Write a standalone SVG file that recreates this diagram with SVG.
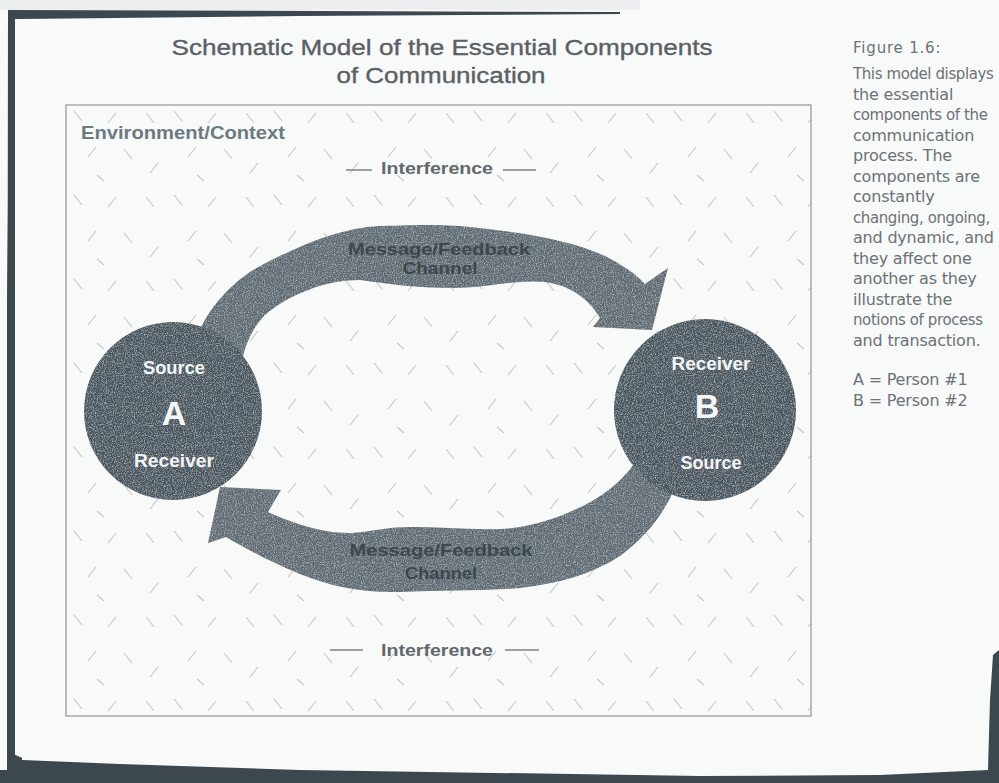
<svg xmlns="http://www.w3.org/2000/svg" width="999" height="783" viewBox="0 0 999 783">
  <defs>
    <style>
      .title { font-family: "Liberation Sans", Arial, sans-serif; font-size: 22px; fill: #5a6065; stroke: #5a6065; stroke-width: 0.35; text-anchor: middle; }
      .side { font-family: "DejaVu Sans", sans-serif; font-size: 16px; fill: #6c7276; letter-spacing: -0.2px; }
      .side-tight { font-family: "DejaVu Sans", sans-serif; font-size: 15px; fill: #6c7276; letter-spacing: -0.4px; }
      .env { font-family: "Liberation Sans", Arial, sans-serif; font-weight: bold; font-size: 19px; fill: #6d7a82; }
      .intf { font-family: "Liberation Sans", Arial, sans-serif; font-weight: bold; font-size: 16px; fill: #62686d; text-anchor: middle; }
      .dash { stroke: #7d8489; stroke-width: 1.3; fill: none; }
      .node-label { font-family: "Liberation Sans", Arial, sans-serif; font-weight: bold; font-size: 18px; fill: #f2f4f5; text-anchor: middle; }
      .node-letter { font-family: "Liberation Sans", Arial, sans-serif; font-weight: bold; font-size: 34px; fill: #f4f6f7; text-anchor: middle; }
      .chan { font-family: "Liberation Sans", Arial, sans-serif; font-weight: bold; font-size: 17px; fill: #3d474d; text-anchor: middle; }
      .person { fill: #4a575e; }
      .band { fill: #5e6b72; }
      .edge { fill: #3d474e; }
    </style>
    <!-- light diagonal dash lattice of the environment -->
    <pattern id="hatch" x="66" y="105" width="100" height="84" patternUnits="userSpaceOnUse">
      <path d="M8 6 l8 10 M42 18 l8 -10 M80 8 l8 10 M22 52 l8 -10 M58 44 l8 10 M92 58 l-8 10 M38 76 l-7 -6" stroke="#c3c9cc" stroke-width="1.2" fill="none"/>
    </pattern>
    <!-- speckled print grain for the dark shapes -->
    <filter id="grain" x="0" y="0" width="100%" height="100%">
      <feTurbulence type="fractalNoise" baseFrequency="0.9" numOctaves="2" seed="4" result="n"/>
      <feColorMatrix in="n" type="matrix" values="0 0 0 0 0.8  0 0 0 0 0.85  0 0 0 0 0.88  0 0 0 1.2 -0.55" result="speck"/>
      <feComposite in="speck" in2="SourceGraphic" operator="in" result="s2"/>
      <feMerge><feMergeNode in="SourceGraphic"/><feMergeNode in="s2"/></feMerge>
    </filter>
  </defs>

  <!-- page -->
  <rect x="0" y="0" width="999" height="783" fill="#f8f9f9"/>
  <rect x="0" y="0" width="640" height="10" fill="#eceeef"/>
  <!-- dark page edges -->
  <path class="edge" d="M8 10 L620 12 L620 14 L300 16 L20 19 L15 19 L15 755 L22 758 L22 760 L120 764 L300 770 L700 776 L880 775 L988 770 L990 700 L993 655 L999 650 L999 783 L0 783 L0 770 L7 770 Z"/>
  <path class="edge" d="M7 770 L7 300 L10 19 L15 19 L15 755 L22 758 L22 770 Z"/>

  <!-- headings -->
  <text class="title" x="442" y="55" textLength="541" lengthAdjust="spacingAndGlyphs">Schematic Model of the Essential Components</text>
  <text class="title" x="441" y="83" textLength="209" lengthAdjust="spacingAndGlyphs">of Communication</text>

  <g id="caption">
    <text x="853" y="53" font-family="DejaVu Sans, sans-serif" font-size="15" fill="#6c7276" letter-spacing="0.8">Figure 1.6:</text>
    <text class="side-tight" x="853" y="79">This model displays</text>
    <text class="side" x="853" y="99.5">the essential</text>
    <text class="side-tight" x="853" y="120">components of the</text>
    <text class="side" x="853" y="140.5">communication</text>
    <text class="side" x="853" y="161">process. The</text>
    <text class="side" x="853" y="181.5">components are</text>
    <text class="side" x="853" y="202">constantly</text>
    <text class="side-tight" x="853" y="222.5">changing, ongoing,</text>
    <text class="side" x="853" y="243">and dynamic, and</text>
    <text class="side" x="853" y="263.5">they affect one</text>
    <text class="side" x="853" y="284">another as they</text>
    <text class="side" x="853" y="304.5">illustrate the</text>
    <text class="side-tight" x="853" y="325">notions of process</text>
    <text class="side" x="853" y="345.5">and transaction.</text>
    <text class="side" x="853" y="385">A = Person #1</text>
    <text class="side" x="853" y="406">B = Person #2</text>
  </g>

  <!-- environment frame -->
  <g id="environment">
    <rect x="66" y="105" width="745" height="611" fill="url(#hatch)" stroke="#8f969a" stroke-width="1.2"/>
    <text class="env" x="81" y="139" textLength="204" lengthAdjust="spacingAndGlyphs">Environment/Context</text>
  </g>

  <g id="interference-top">
    <path class="dash" d="M346 170 H372 M503 170 H536"/>
    <text class="intf" x="437" y="174" textLength="112" lengthAdjust="spacingAndGlyphs">Interference</text>
  </g>
  <g id="interference-bottom">
    <path class="dash" d="M330 650 H363 M505 650 H539"/>
    <text class="intf" x="437" y="656" textLength="112" lengthAdjust="spacingAndGlyphs">Interference</text>
  </g>

  <!-- channels between the two persons -->
  <g id="connectors">
    <g id="channel-a-to-b">
      <path class="band" filter="url(#grain)" d="M192 350 C200 320 225 285 260 266 C300 245 340 228 380 226 C420 225 440 224 470 227 C520 232 570 240 605 256 C625 266 638 276 645 284 L668 268 L652 330 L593 327 L600 318 C590 300 570 285 545 282 C515 279 490 288 455 288 C420 288 395 285 360 280 C320 280 285 298 265 315 C252 328 243 348 240 372 Z"/>
      <text class="chan" x="439" y="255" textLength="182" lengthAdjust="spacingAndGlyphs">Message/Feedback</text>
      <text class="chan" x="440" y="274" textLength="75" lengthAdjust="spacingAndGlyphs">Channel</text>
    </g>
    <g id="channel-b-to-a">
      <path class="band" filter="url(#grain)" d="M220 487 L281 490 L268 512 C290 522 320 533 350 533 C370 532 385 527 410 527 C440 527 470 530 500 529 C535 527 560 517 585 505 C610 492 628 475 640 455 L682 470 C672 500 655 530 620 556 C590 575 560 583 520 588 C480 591 440 590 400 592 C360 593 330 586 300 574 C270 562 245 548 226 537 L208 543 Z"/>
      <text class="chan" x="441" y="556" textLength="183" lengthAdjust="spacingAndGlyphs">Message/Feedback</text>
      <text class="chan" x="441" y="579" textLength="72" lengthAdjust="spacingAndGlyphs">Channel</text>
    </g>
  </g>

  <!-- person A -->
  <g id="node-a">
    <circle class="person" filter="url(#grain)" cx="173" cy="411" r="89"/>
    <text class="node-label" x="174" y="374" textLength="62" lengthAdjust="spacingAndGlyphs">Source</text>
    <text class="node-letter" x="174" y="425">A</text>
    <text class="node-label" x="174" y="467" textLength="80" lengthAdjust="spacingAndGlyphs">Receiver</text>
  </g>

  <!-- person B -->
  <g id="node-b">
    <circle class="person" filter="url(#grain)" cx="705" cy="410" r="91"/>
    <text class="node-label" x="711" y="370" textLength="79" lengthAdjust="spacingAndGlyphs">Receiver</text>
    <text class="node-letter" x="707" y="418">B</text>
    <text class="node-label" x="711" y="469" textLength="61" lengthAdjust="spacingAndGlyphs">Source</text>
  </g>
</svg>
